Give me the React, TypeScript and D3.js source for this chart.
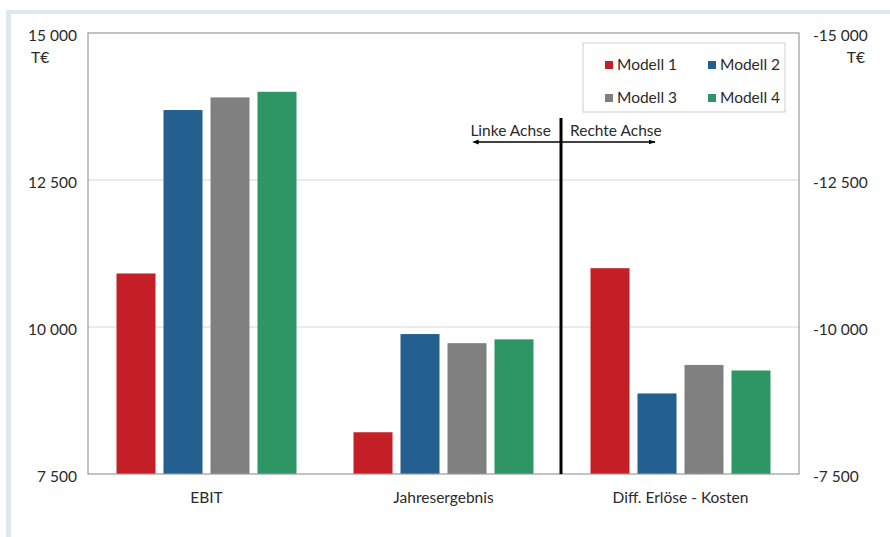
import React, { useEffect, useRef } from 'react';
import * as d3 from 'd3';

const categories = ['EBIT', 'Jahresergebnis', 'Diff. Erlöse - Kosten'];
const models = ['Modell 1', 'Modell 2', 'Modell 3', 'Modell 4'];
const colors = ['#c41f27', '#23608f', '#808080', '#2e9565'];

// values per model, order follows categories (last category is on right axis)
const modell1 = [10910, 8210, -11000];
const modell2 = [13690, 9880, -8870];
const modell3 = [13905, 9725, -9355];
const modell4 = [14000, 9790, -9260];
const series = [modell1, modell2, modell3, modell4];

const leftTicks = [7500, 10000, 12500, 15000];
const rightTicks = [-7500, -10000, -12500, -15000];

const width = 890;
const height = 537;
const marginLeft = 88;
const marginRight = 91;
const marginTop = 33;
const marginBottom = 63;

const font = 'Lato, "Open Sans", sans-serif';
const fontSize = 15.5;
const textColor = '#2a2a2a';

const App: React.FC = () => {
    const svgRef = useRef<SVGSVGElement | null>(null);

    useEffect(() => {
        const svg = d3.select(svgRef.current);
        svg.selectAll('*').remove();

        const right = width - marginRight;
        const bottom = height - marginBottom;

        const x0 = d3.scaleBand<string>().domain(categories).range([marginLeft, right]);
        const groupWidth = 180;
        const x1 = d3.scaleBand<string>().domain(models).range([0, groupWidth]).paddingInner(0.17);
        const groupOffset = (x0.bandwidth() - groupWidth) / 2;

        const yLeft = d3.scaleLinear().domain([7500, 15000]).range([bottom, marginTop]);
        const yRight = d3.scaleLinear().domain([-7500, -15000]).range([bottom, marginTop]);

        const locale = d3.formatLocale({ thousands: ' ', grouping: [3], decimal: ',', currency: ['', '€'], minus: '-' });
        const fmt = locale.format(',d');

        // outer frame (only top and left visible)
        svg.append('rect').attr('x', 6).attr('y', 10).attr('width', width - 6).attr('height', 4).attr('fill', '#dfe8ee');
        svg.append('rect').attr('x', 6).attr('y', 10).attr('width', 5).attr('height', height - 10).attr('fill', '#dfe8ee');

        // gridlines
        svg.append('g')
            .selectAll('line')
            .data(leftTicks.slice(1, -1))
            .join('line')
            .attr('x1', marginLeft).attr('x2', right)
            .attr('y1', d => yLeft(d)).attr('y2', d => yLeft(d))
            .attr('stroke', '#d6d6d6');

        // bars
        const barG = svg.append('g');
        categories.forEach((cat, ci) => {
            const yScale = ci === 2 ? yRight : yLeft;
            series.forEach((s, mi) => {
                const v = s[ci];
                barG.append('rect')
                    .attr('x', (x0(cat) ?? 0) + groupOffset + (x1(models[mi]) ?? 0))
                    .attr('y', yScale(v))
                    .attr('width', x1.bandwidth())
                    .attr('height', bottom - yScale(v))
                    .attr('fill', colors[mi]);
            });
        });

        // plot border
        svg.append('rect')
            .attr('x', marginLeft).attr('y', marginTop)
            .attr('width', right - marginLeft).attr('height', bottom - marginTop)
            .attr('fill', 'none').attr('stroke', '#9a9a9a').attr('stroke-width', 1.2);

        // left axis
        svg.append('g')
            .attr('transform', `translate(${marginLeft - 11}, 3)`)
            .call(d3.axisLeft(yLeft).tickValues(leftTicks).tickSize(0).tickPadding(0).tickFormat(d => fmt(d as number)))
            .call(g => g.select('.domain').remove())
            .call(g => g.selectAll('text').attr('font-size', fontSize).attr('font-family', font).attr('fill', textColor));

        // right axis
        svg.append('g')
            .attr('transform', `translate(${right + 14}, 3)`)
            .call(d3.axisRight(yRight).tickValues(rightTicks).tickSize(0).tickPadding(0).tickFormat(d => fmt(d as number)))
            .call(g => g.select('.domain').remove())
            .call(g => g.selectAll('text').attr('font-size', fontSize).attr('font-family', font).attr('fill', textColor));

        // unit labels
        svg.append('text').attr('x', 31).attr('y', 63).text('T€')
            .attr('font-size', fontSize).attr('font-family', font).attr('fill', textColor);
        svg.append('text').attr('x', 865).attr('y', 63).attr('text-anchor', 'end').text('T€')
            .attr('font-size', fontSize).attr('font-family', font).attr('fill', textColor);

        // category labels
        svg.append('g')
            .selectAll('text')
            .data(categories)
            .join('text')
            .attr('x', d => (x0(d) ?? 0) + x0.bandwidth() / 2)
            .attr('y', 503)
            .attr('text-anchor', 'middle')
            .attr('font-size', fontSize).attr('font-family', font).attr('fill', textColor)
            .text(d => d);

        // divider between left-axis and right-axis categories
        const divX = (x0(categories[2]) ?? 0) - 1;
        svg.append('line')
            .attr('x1', divX).attr('x2', divX)
            .attr('y1', 118).attr('y2', bottom)
            .attr('stroke', '#000').attr('stroke-width', 3);

        // arrow
        const defs = svg.append('defs');
        ['start', 'end'].forEach(k => {
            defs.append('marker')
                .attr('id', `arrow-${k}`)
                .attr('viewBox', '0 0 10 10')
                .attr('refX', k === 'end' ? 9 : 1).attr('refY', 5)
                .attr('markerWidth', 7).attr('markerHeight', 7)
                .attr('markerUnits', 'userSpaceOnUse')
                .attr('orient', 'auto-start-reverse')
                .append('path').attr('d', 'M0,1.5 L10,5 L0,8.5 Z').attr('fill', '#000');
        });
        svg.append('line')
            .attr('x1', 478).attr('x2', 655)
            .attr('y1', 142).attr('y2', 142)
            .attr('stroke', '#000').attr('stroke-width', 1.3)
            .attr('marker-start', 'url(#arrow-start)')
            .attr('marker-end', 'url(#arrow-end)');
        svg.append('text').attr('x', divX - 10).attr('y', 136).attr('text-anchor', 'end').text('Linke Achse')
            .attr('font-size', fontSize).attr('font-family', font).attr('fill', textColor);
        svg.append('text').attr('x', divX + 9).attr('y', 136).text('Rechte Achse')
            .attr('font-size', fontSize).attr('font-family', font).attr('fill', textColor);

        // legend
        const legend = svg.append('g');
        legend.append('rect')
            .attr('x', 583).attr('y', 43).attr('width', 202).attr('height', 69)
            .attr('fill', '#fff').attr('stroke', '#d0d0d0');
        models.forEach((m, i) => {
            const lx = 605 + (i % 2) * 103;
            const ly = 65 + Math.floor(i / 2) * 33;
            legend.append('rect').attr('x', lx).attr('y', ly - 4).attr('width', 8).attr('height', 8).attr('fill', colors[i]);
            legend.append('text').attr('x', lx + 12).attr('y', ly).attr('dy', '0.35em')
                .attr('font-size', fontSize).attr('font-family', font).attr('fill', textColor).text(m);
        });
    }, []);

    return (
        <svg
            ref={svgRef}
            width={width}
            height={height}
            viewBox={`0 0 ${width} ${height}`}
            style={{ position: 'absolute', left: 0, top: 0, background: '#fff' }}
        />
    );
};

export default App;
